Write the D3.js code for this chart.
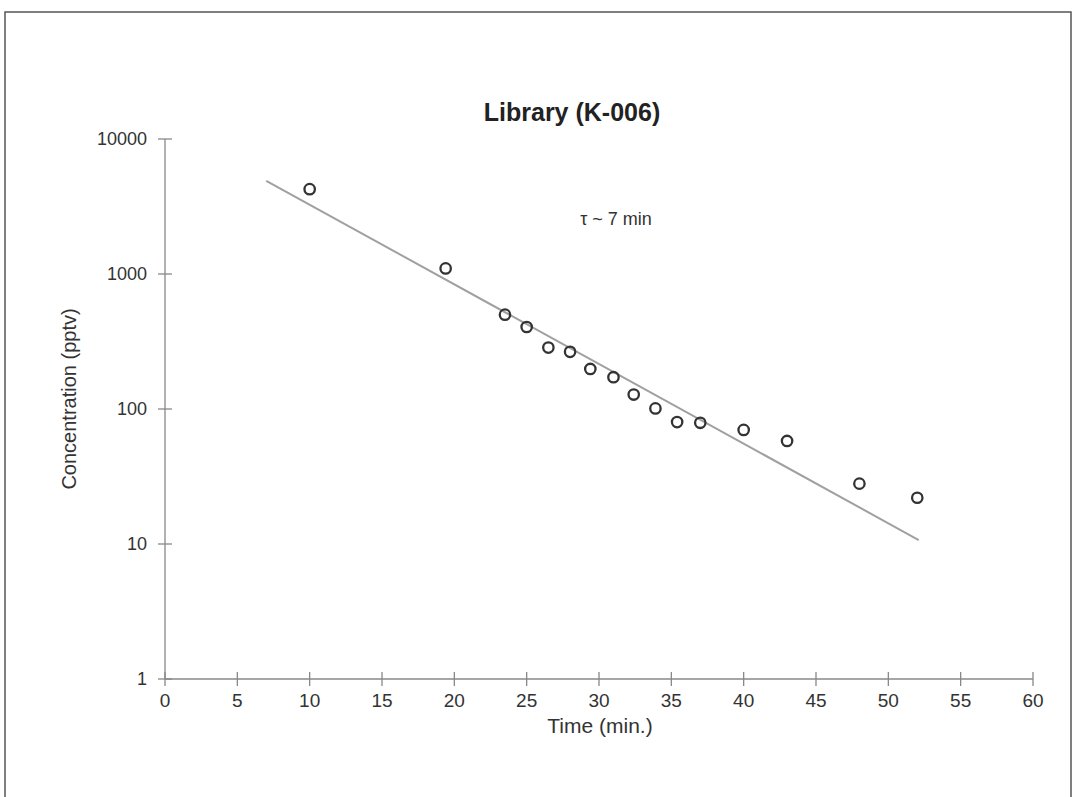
<!DOCTYPE html>
<html><head><meta charset="utf-8">
<script src="https://cdn.jsdelivr.net/npm/d3@7"></script>
<style>body{margin:0;background:#fff}svg{display:block}</style>
</head><body>
<svg id="c" width="1075" height="797"></svg>
<script>
const times = [10, 19.4, 23.5, 25, 26.5, 28, 29.4, 31, 32.4, 33.9, 35.4, 37, 40, 43, 48, 52];
const concentrations = [4250, 1100, 500, 405, 285, 265, 198, 172, 128, 101, 80, 79, 70, 58, 28, 22];
const fitTimes = [7, 52.1];
const fitValues = [4900, 10.7];
const xTicks = [0, 5, 10, 15, 20, 25, 30, 35, 40, 45, 50, 55, 60];
const yTicks = [1, 10, 100, 1000, 10000];

const svg = d3.select("#c");
const font = "'Liberation Sans', Arial, sans-serif";
svg.append("rect").attr("x", 5).attr("y", 12).attr("width", 1066).attr("height", 800)
  .attr("fill", "#fff").attr("stroke", "#555").attr("stroke-width", 1.5);

const x = d3.scaleLinear().domain([0, 60]).range([165, 1033]);
const y = d3.scaleLog().domain([1, 10000]).range([679, 139]);

const axisColor = "#888";
// y axis
svg.append("line").attr("x1", x(0)).attr("x2", x(0)).attr("y1", y(10000)).attr("y2", y(1))
  .attr("stroke", axisColor).attr("stroke-width", 1.3);
yTicks.forEach(t => {
  svg.append("line").attr("x1", x(0) - 7).attr("x2", x(0) + 7).attr("y1", y(t)).attr("y2", y(t))
    .attr("stroke", axisColor).attr("stroke-width", 1.3);
  svg.append("text").attr("x", x(0) - 18).attr("y", y(t)).attr("dy", "0.35em")
    .attr("text-anchor", "end").attr("font-family", font).attr("font-size", 18).attr("fill", "#333")
    .text(t);
});
// x axis
svg.append("line").attr("x1", x(0)).attr("x2", x(60)).attr("y1", y(1)).attr("y2", y(1))
  .attr("stroke", axisColor).attr("stroke-width", 1.3);
xTicks.forEach(t => {
  svg.append("line").attr("x1", x(t)).attr("x2", x(t)).attr("y1", y(1) - 7).attr("y2", y(1) + 7)
    .attr("stroke", axisColor).attr("stroke-width", 1.3);
  svg.append("text").attr("x", x(t)).attr("y", y(1) + 28)
    .attr("text-anchor", "middle").attr("font-family", font).attr("font-size", 19).attr("fill", "#333")
    .text(t);
});

// fit line
svg.append("line")
  .attr("x1", x(fitTimes[0])).attr("y1", y(fitValues[0]))
  .attr("x2", x(fitTimes[1])).attr("y2", y(fitValues[1]))
  .attr("stroke", "#a0a0a0").attr("stroke-width", 2);

// points
svg.selectAll("circle.pt").data(times.map((t, i) => [t, concentrations[i]])).enter()
  .append("circle").attr("class", "pt")
  .attr("cx", d => x(d[0])).attr("cy", d => y(d[1])).attr("r", 5.2)
  .attr("fill", "none").attr("stroke", "#333").attr("stroke-width", 2.3);

// titles
svg.append("text").attr("x", 572).attr("y", 121).attr("text-anchor", "middle")
  .attr("font-family", font).attr("font-size", 25).attr("font-weight", "bold").attr("fill", "#222")
  .text("Library (K-006)");
svg.append("text").attr("x", 616).attr("y", 225).attr("text-anchor", "middle")
  .attr("font-family", font).attr("font-size", 18).attr("fill", "#333")
  .text("τ ~ 7 min");
svg.append("text").attr("x", 600).attr("y", 733).attr("text-anchor", "middle")
  .attr("font-family", font).attr("font-size", 21).attr("fill", "#333")
  .text("Time (min.)");
svg.append("text").attr("transform", "translate(76,399) rotate(-90)").attr("text-anchor", "middle")
  .attr("font-family", font).attr("font-size", 20).attr("fill", "#333")
  .text("Concentration (pptv)");
</script>
</body></html>
